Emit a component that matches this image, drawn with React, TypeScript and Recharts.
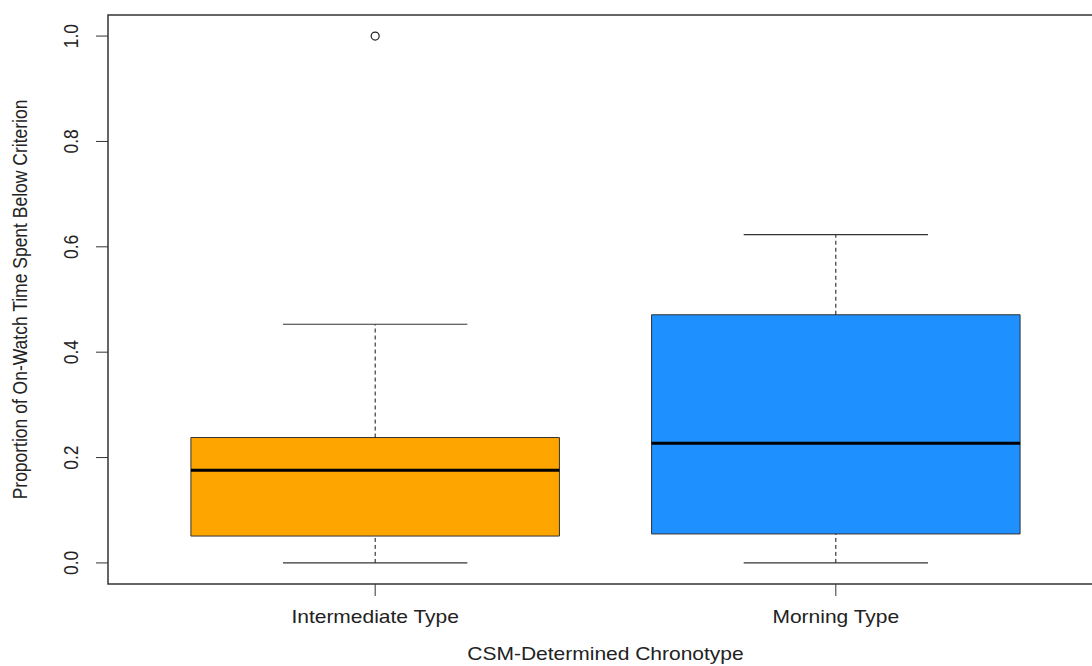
import React from 'react';
import { ComposedChart, XAxis, YAxis, Scatter, ReferenceArea, ReferenceLine } from 'recharts';

const categories = ['Intermediate Type', 'Morning Type'];
const positions = [1, 2];
const lowerWhisker = [0.0, 0.0];
const q1 = [0.051, 0.055];
const median = [0.176, 0.227];
const q3 = [0.238, 0.471];
const upperWhisker = [0.453, 0.623];
const boxColors = ['#FFA500', '#1E90FF'];
const outliers = [{ x: 1, y: 1.0 }];
const yTicks = [0, 0.2, 0.4, 0.6, 0.8, 1.0];
const xTitle = 'CSM-Determined Chronotype';
const yTitle = 'Proportion of On-Watch Time Spent Below Criterion';

const FONT = '"Liberation Sans", Arial, sans-serif';
const FS = 17.5;
const SX = 1.2;
const BOX_HALF = 0.4;
const CAP_HALF = 0.2;
const X_DOMAIN: [number, number] = [0.42, 2.58];
const Y_DOMAIN: [number, number] = [-0.04, 1.04];

const XTick = (props: any) => {
  const { x, y, payload } = props;
  const idx = positions.indexOf(payload.value);
  const label = idx >= 0 ? categories[idx] : '';
  return (
    <text
      transform={`translate(${x}, ${y + 25}) scale(${SX}, 1)`}
      textAnchor="middle"
      fontFamily={FONT}
      fontSize={FS}
      fill="#222"
    >
      {label}
    </text>
  );
};

const YTick = (props: any) => {
  const { x, y, payload } = props;
  return (
    <text
      transform={`translate(${x - 16}, ${y}) scale(${SX}, 1) rotate(-90)`}
      textAnchor="middle"
      fontFamily={FONT}
      fontSize={FS}
      fill="#222"
    >
      {Number(payload.value).toFixed(1)}
    </text>
  );
};

const XTitle = (props: any) => {
  const vb = props.viewBox || {};
  const cx = vb.x + vb.width / 2;
  return (
    <text
      transform={`translate(${cx}, 660) scale(${SX}, 1)`}
      textAnchor="middle"
      fontFamily={FONT}
      fontSize={FS}
      fill="#222"
    >
      {xTitle}
    </text>
  );
};

const YTitle = (props: any) => {
  const vb = props.viewBox || {};
  const cy = vb.y + vb.height / 2;
  return (
    <text
      transform={`translate(27, ${cy}) scale(${SX}, 1) rotate(-90)`}
      textAnchor="middle"
      fontFamily={FONT}
      fontSize={FS}
      fill="#222"
    >
      {yTitle}
    </text>
  );
};

const OutlierShape = (props: any) => (
  <circle cx={props.cx} cy={props.cy} r={4} fill="none" stroke="#222" strokeWidth={1.2} />
);

export default function App() {
  return (
    <div style={{ position: 'absolute', left: 0, top: 0, width: 1092, height: 666, overflow: 'hidden', background: '#fff' }}>
      <ComposedChart
        width={1120}
        height={666}
        data={outliers}
        margin={{ top: 15, right: 17, bottom: 0, left: 0 }}
      >
        <XAxis
          dataKey="x"
          type="number"
          domain={X_DOMAIN}
          allowDataOverflow
          ticks={positions}
          height={82}
          axisLine={false}
          tickLine={{ stroke: '#333' }}
          tickSize={12}
          tick={<XTick />}
          label={{ content: <XTitle /> }}
        />
        <YAxis
          dataKey="y"
          type="number"
          domain={Y_DOMAIN}
          allowDataOverflow
          ticks={yTicks}
          width={108}
          axisLine={false}
          tickLine={{ stroke: '#333' }}
          tickSize={12}
          tick={<YTick />}
          label={{ content: <YTitle /> }}
        />
        {positions.map((p, i) => (
          <ReferenceArea
            key={`box-${i}`}
            x1={p - BOX_HALF}
            x2={p + BOX_HALF}
            y1={q1[i]}
            y2={q3[i]}
            fill={boxColors[i]}
            fillOpacity={1}
            stroke="#333"
            strokeWidth={1}
          />
        ))}
        {positions.map((p, i) => (
          <ReferenceLine
            key={`wu-${i}`}
            segment={[{ x: p, y: q3[i] }, { x: p, y: upperWhisker[i] }]}
            stroke="#111"
            strokeWidth={1}
            strokeDasharray="4 3"
          />
        ))}
        {positions.map((p, i) => (
          <ReferenceLine
            key={`wl-${i}`}
            segment={[{ x: p, y: lowerWhisker[i] }, { x: p, y: q1[i] }]}
            stroke="#111"
            strokeWidth={1}
            strokeDasharray="4 3"
          />
        ))}
        {positions.map((p, i) => (
          <ReferenceLine
            key={`cu-${i}`}
            segment={[{ x: p - CAP_HALF, y: upperWhisker[i] }, { x: p + CAP_HALF, y: upperWhisker[i] }]}
            stroke="#333"
            strokeWidth={1.2}
          />
        ))}
        {positions.map((p, i) => (
          <ReferenceLine
            key={`cl-${i}`}
            segment={[{ x: p - CAP_HALF, y: lowerWhisker[i] }, { x: p + CAP_HALF, y: lowerWhisker[i] }]}
            stroke="#333"
            strokeWidth={1.2}
          />
        ))}
        {positions.map((p, i) => (
          <ReferenceLine
            key={`med-${i}`}
            segment={[{ x: p - BOX_HALF, y: median[i] }, { x: p + BOX_HALF, y: median[i] }]}
            stroke="#000"
            strokeWidth={3}
          />
        ))}
        <ReferenceArea
          x1={X_DOMAIN[0]}
          x2={X_DOMAIN[1]}
          y1={Y_DOMAIN[0]}
          y2={Y_DOMAIN[1]}
          fill="none"
          stroke="#333"
          strokeWidth={1.5}
        />
        <Scatter
          data={outliers}
          dataKey="y"
          shape={<OutlierShape />}
          isAnimationActive={false}
        />
      </ComposedChart>
    </div>
  );
}
